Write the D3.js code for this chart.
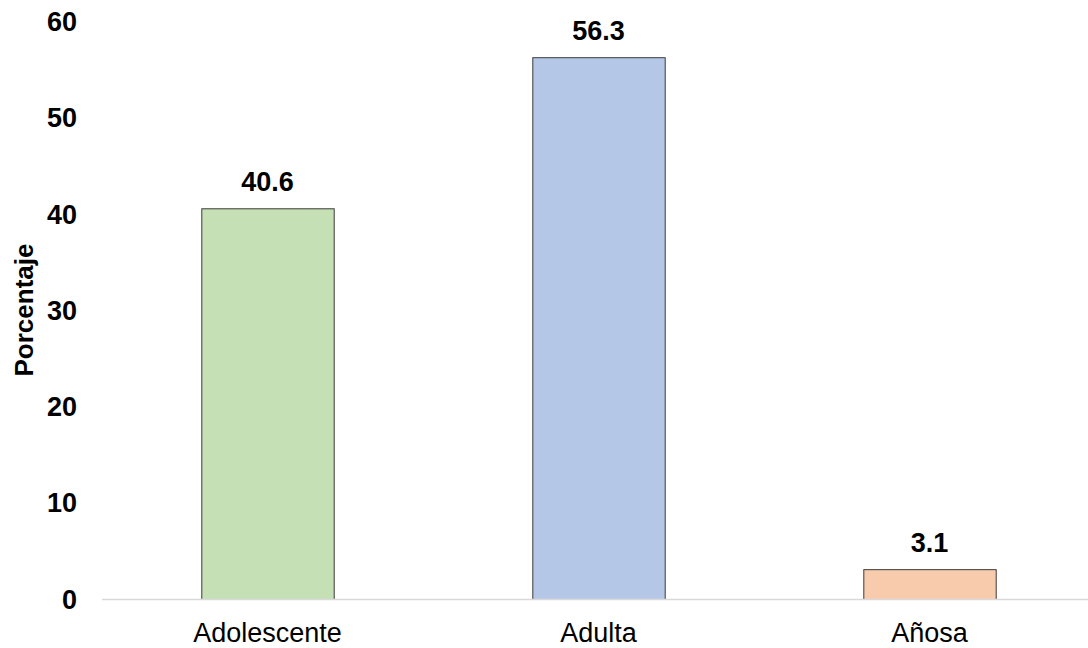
<!DOCTYPE html>
<html>
<head>
<meta charset="utf-8">
<script src="https://cdn.jsdelivr.net/npm/d3@7"></script>
<style>
  html, body { margin: 0; padding: 0; background: #ffffff; }
  svg { display: block; font-family: "Liberation Sans", Arial, sans-serif; }
</style>
</head>
<body>
<svg id="chart" width="1088" height="648"></svg>
<script>
// Grupos de edad y porcentaje de cada uno
const categories = ["Adolescente", "Adulta", "Añosa"];
const values = [40.6, 56.3, 3.1];
const barColors = ["#c5e0b4", "#b4c7e7", "#f8cbad"];
const yTicks = [0, 10, 20, 30, 40, 50, 60];
const yTitle = "Porcentaje";

const svg = d3.select("#chart");
const margin = { left: 102, right: -7, top: 22.1, bottom: 48.5 };
const width = 1088, height = 648;

const x = d3.scaleBand()
  .domain(categories)
  .range([margin.left, width - margin.right])
  .paddingInner(0.6)
  .paddingOuter(0.3);

const y = d3.scaleLinear()
  .domain([0, 60])
  .range([height - margin.bottom, margin.top]);

// Barras
svg.append("g")
  .selectAll("rect")
  .data(values)
  .join("rect")
  .attr("x", (d, i) => x(categories[i]) + 0.5)
  .attr("y", d => y(d))
  .attr("width", x.bandwidth())
  .attr("height", d => y(0) - y(d))
  .attr("fill", (d, i) => barColors[i])
  .attr("stroke", "#3a3a3a")
  .attr("stroke-width", 1);

// Línea del eje X
svg.append("line")
  .attr("x1", margin.left)
  .attr("x2", width)
  .attr("y1", y(0))
  .attr("y2", y(0))
  .attr("stroke", "#d9d9d9")
  .attr("stroke-width", 1.5);

// Etiquetas del eje Y
const yAxis = d3.axisLeft(y).tickValues(yTicks).tickSize(0).tickPadding(0).tickFormat(d3.format("d"));
const gy = svg.append("g")
  .attr("transform", `translate(77,0)`)
  .call(yAxis);
gy.select(".domain").remove();
gy.selectAll("text")
  .attr("font-family", "Liberation Sans, Arial, sans-serif")
  .attr("font-size", 27)
  .attr("font-weight", "bold")
  .attr("fill", "#000");

// Etiquetas del eje X
const xAxis = d3.axisBottom(x).tickSize(0).tickPadding(0);
const gx = svg.append("g")
  .attr("transform", `translate(0,${y(0)})`)
  .call(xAxis);
gx.select(".domain").remove();
gx.selectAll("text")
  .attr("dy", null)
  .attr("y", 42)
  .attr("font-family", "Liberation Sans, Arial, sans-serif")
  .attr("font-size", 27)
  .attr("fill", "#000");

// Valores sobre las barras
svg.append("g")
  .selectAll("text")
  .data(values)
  .join("text")
  .attr("x", (d, i) => x(categories[i]) + x.bandwidth() / 2)
  .attr("y", d => y(d) - 18)
  .attr("text-anchor", "middle")
  .attr("font-size", 27)
  .attr("font-weight", "bold")
  .attr("fill", "#000")
  .text(d => d.toFixed(1));

// Título del eje Y
svg.append("text")
  .attr("transform", `translate(33,310) rotate(-90)`)
  .attr("text-anchor", "middle")
  .attr("font-size", 26)
  .attr("font-weight", "bold")
  .attr("fill", "#000")
  .text(yTitle);
</script>
</body>
</html>
